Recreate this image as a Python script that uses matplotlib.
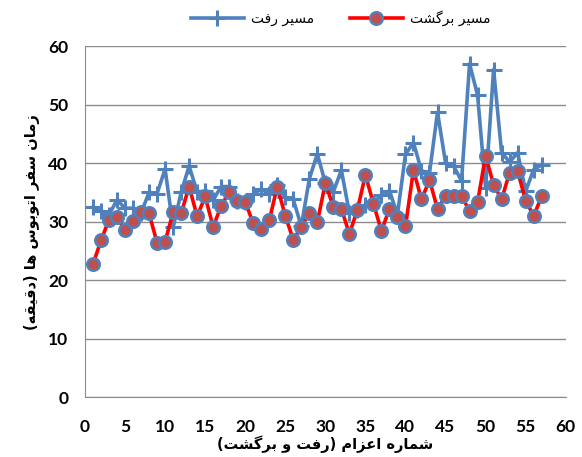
import matplotlib
matplotlib.use('Agg')
import matplotlib.pyplot as plt

# شماره اعزام
trips = list(range(1, 58))

# مسیر رفت (دقیقه)
go_times = [32.5, 31.8, 31.2, 33.7, 32.3, 32.3, 31.5, 35.0, 34.8, 39.0,
            29.0, 35.0, 39.5, 35.1, 35.2, 33.7, 36.0, 36.0, 33.6, 33.3,
            34.7, 35.6, 34.7, 36.2, 34.2, 33.8, 29.2, 37.3, 41.6, 36.6,
            35.1, 38.8, 31.5, 32.0, 32.9, 33.2, 34.5, 35.3, 31.2, 41.5,
            43.5, 38.7, 38.3, 48.7, 40.1, 39.5, 37.0, 57.0, 51.6, 35.8,
            56.0, 41.8, 40.2, 41.8, 35.2, 38.9, 39.7]

# مسیر برگشت (دقیقه)
back_times = [22.7, 26.8, 30.3, 30.8, 28.5, 30.1, 31.6, 31.4, 26.4, 26.6,
              31.6, 31.4, 36.0, 30.9, 34.3, 29.1, 32.7, 35.1, 33.5, 33.4,
              29.7, 28.8, 30.2, 36.0, 31.0, 26.9, 29.1, 31.5, 29.9, 36.6,
              32.5, 32.2, 27.9, 32.0, 38.0, 33.1, 28.4, 32.2, 30.8, 29.2,
              38.8, 33.8, 37.1, 32.2, 34.3, 34.4, 34.4, 31.8, 33.3, 41.3,
              36.3, 33.8, 38.4, 38.6, 33.6, 31.0, 34.3]

label_go = 'مسیر رفت'
label_back = 'مسیر برگشت'
xlabel = 'شماره اعزام (رفت و برگشت)'
ylabel = 'زمان سفر اتوبوس ها (دقیقه)'

# شکل‌های حروف: (تنها، پایانی، آغازی، میانی)
FORMS = {
    'ا': ('\uFE8D', '\uFE8E', None, None),
    'ب': ('\uFE8F', '\uFE90', '\uFE91', '\uFE92'),
    'ت': ('\uFE95', '\uFE96', '\uFE97', '\uFE98'),
    'د': ('\uFEA9', '\uFEAA', None, None),
    'ر': ('\uFEAD', '\uFEAE', None, None),
    'ز': ('\uFEAF', '\uFEB0', None, None),
    'س': ('\uFEB1', '\uFEB2', '\uFEB3', '\uFEB4'),
    'ش': ('\uFEB5', '\uFEB6', '\uFEB7', '\uFEB8'),
    'ع': ('\uFEC9', '\uFECA', '\uFECB', '\uFECC'),
    'ف': ('\uFED1', '\uFED2', '\uFED3', '\uFED4'),
    'ق': ('\uFED5', '\uFED6', '\uFED7', '\uFED8'),
    'م': ('\uFEE1', '\uFEE2', '\uFEE3', '\uFEE4'),
    'ن': ('\uFEE5', '\uFEE6', '\uFEE7', '\uFEE8'),
    'ه': ('\uFEE9', '\uFEEA', '\uFEEB', '\uFEEC'),
    'و': ('\uFEED', '\uFEEE', None, None),
    'ی': ('\uFBFC', '\uFBFD', '\uFBFE', '\uFBFF'),
    'گ': ('\uFB92', '\uFB93', '\uFB94', '\uFB95'),
}


def fa(text):
    out = []
    n = len(text)
    for i, ch in enumerate(text):
        if ch not in FORMS:
            out.append(ch)
            continue
        prev = text[i - 1] if i > 0 else ''
        nxt = text[i + 1] if i < n - 1 else ''
        join_prev = prev in FORMS and FORMS[prev][2] is not None
        join_next = nxt in FORMS and FORMS[ch][2] is not None
        iso, fin, ini, med = FORMS[ch]
        if join_prev and join_next:
            out.append(med)
        elif join_prev:
            out.append(fin)
        elif join_next:
            out.append(ini)
        else:
            out.append(iso)
    s = ''.join(reversed(out))
    return s.translate(str.maketrans('()', ')('))


plt.rcParams['font.family'] = ['DejaVu Sans']

fig = plt.figure(figsize=(5.82, 4.57), dpi=100)
ax = fig.add_axes([0.146, 0.131, 0.826, 0.768])

blue = '#4F81BD'
ax.plot(trips, go_times, color=blue, lw=2.6, marker='+', ms=11, mew=2.2,
        mec=blue, label=fa(label_go), zorder=3)
ax.plot(trips, back_times, color='#FF0000', lw=2.6, marker='o', ms=9,
        mfc='#C0504D', mec=blue, mew=1.8, label=fa(label_back), zorder=4)

ax.set_xlim(0, 60)
ax.set_ylim(0, 60)
ax.set_xticks(range(0, 61, 5))
ax.set_yticks(range(0, 61, 10))
ax.grid(axis='y', color='#8C8C8C', lw=1)
ax.set_axisbelow(True)
for side in ['top', 'right']:
    ax.spines[side].set_visible(False)
for side in ['left', 'bottom']:
    ax.spines[side].set_color('#8C8C8C')
ax.tick_params(length=0, labelsize=12.5, colors='black')
ax.tick_params(axis='x', pad=16)
ax.tick_params(axis='y', pad=12)
for t in ax.get_xticklabels() + ax.get_yticklabels():
    t.set_family('Lato')
    t.set_fontweight('bold')

ax.set_xlabel(fa(xlabel), fontsize=10.5, fontweight='bold', labelpad=0)
ax.set_ylabel(fa(ylabel), fontsize=10.5, fontweight='bold', labelpad=6)

fig.legend(loc='center', bbox_to_anchor=(0.585, 0.96), ncol=2, frameon=False,
           handlelength=3.8, columnspacing=2.6, handletextpad=0.5,
           prop={'size': 10})

plt.savefig('out.png', dpi=100)
